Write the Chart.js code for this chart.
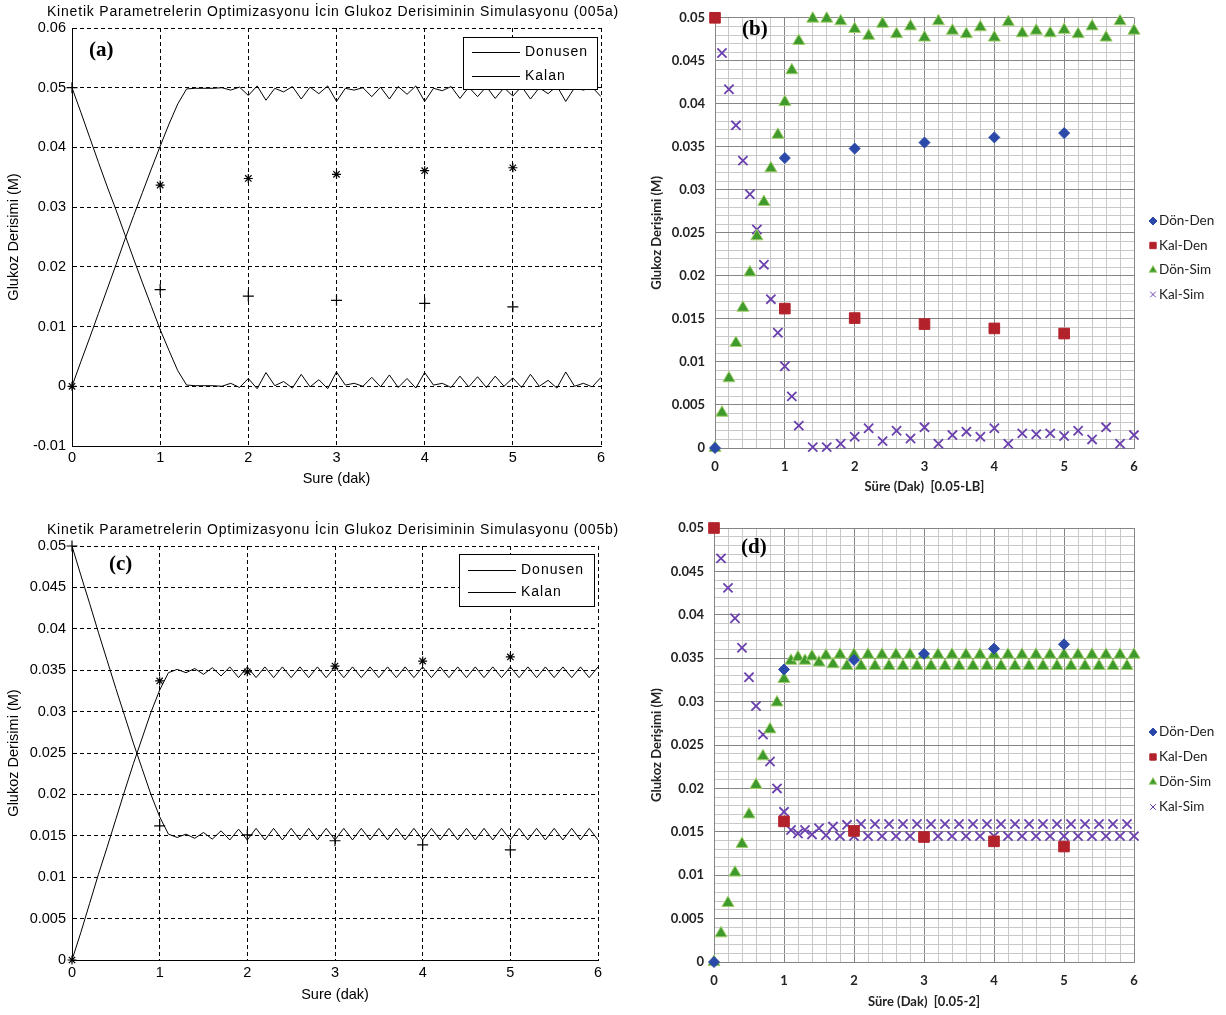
<!DOCTYPE html>
<html>
<head>
<meta charset="utf-8">
<script src="https://cdn.jsdelivr.net/npm/chart.js@4.4.1/dist/chart.umd.min.js"></script>
<style>
body{margin:0;background:#fff;}
#page{position:relative;width:1226px;height:1015px;overflow:hidden;}
.panel{position:absolute;}
</style>
</head>
<body>
<div id="page">
	<div class="panel" style="left:0;top:0;width:630px;height:500px"><canvas id="chartA"></canvas></div>
	<div class="panel" style="left:640px;top:0;width:586px;height:510px"><canvas id="chartB"></canvas></div>
	<div class="panel" style="left:0;top:510px;width:630px;height:505px"><canvas id="chartC"></canvas></div>
	<div class="panel" style="left:640px;top:510px;width:586px;height:505px"><canvas id="chartD"></canvas></div>
</div>
<script>
// time axes (dak)
const fineTimes = [0,0.1,0.2,0.3,0.4,0.5,0.6,0.7,0.8,0.9,1,1.1,1.2,1.3,1.4,1.5,1.6,1.7,1.8,1.9,
	2,2.1,2.2,2.3,2.4,2.5,2.6,2.7,2.8,2.9,3,3.1,3.2,3.3,3.4,3.5,3.6,3.7,3.8,3.9,
	4,4.1,4.2,4.3,4.4,4.5,4.6,4.7,4.8,4.9,5,5.1,5.2,5.3,5.4,5.5,5.6,5.7,5.8,5.9,6];
const coarseTimes = [0,0.1,0.2,0.3,0.4,0.5,0.6,0.7,0.8,0.9,1,1.1,1.2,
	1.4,1.6,1.8,2,2.2,2.4,2.6,2.8,3,3.2,3.4,3.6,3.8,4,4.2,4.4,4.6,4.8,5,5.2,5.4,5.6,5.8,6];
const expTimes = [0,1,2,3,4,5];

// experimental (Den)
const donDen = [0,0.0337,0.0348,0.0355,0.0361,0.0366];
const kalDen = [0.05,0.0162,0.0151,0.0144,0.0139,0.0133];

// simulation 005a (matlab, fine step)
const donusenA = [0,0.0041,0.0081,0.0122,0.0163,0.0204,0.0246,0.0286,0.0325,0.0364,
	0.0402,0.0439,0.0473,0.0498,0.0499,0.0499,0.0499,0.05,0.0496,0.0501,
	0.0487,0.0503,0.0479,0.0499,0.0493,0.0502,0.0481,0.0501,0.049,0.0503,
	0.0477,0.0499,0.0496,0.05,0.0485,0.0501,0.0481,0.0502,0.0489,0.0503,
	0.0477,0.0499,0.0495,0.0502,0.0482,0.0501,0.0485,0.0502,0.0482,0.05,
	0.0486,0.0502,0.0481,0.05,0.049,0.0503,0.0477,0.05,0.0496,0.0501,
	0.0485];
const kalanA = [0.05,0.0459,0.0417,0.0375,0.0334,0.0295,0.0254,0.0213,0.0173,0.0134,
	0.0095,0.006,0.0026,0.0002,0.0001,0.0001,0.0001,0,0.0005,-0.0002,
	0.0013,-0.0004,0.0023,0.0001,0.0008,-0.0003,0.002,-0.0001,0.0011,-0.0004,
	0.0024,0.0002,0.0005,0,0.0015,-0.0001,0.0019,-0.0002,0.0013,-0.0003,
	0.0023,0.0002,0.0005,-0.0002,0.0017,-0.0001,0.0016,-0.0002,0.0017,0,
	0.0014,-0.0002,0.002,0,0.001,-0.0003,0.0024,0,0.0005,-0.0001,
	0.0015];

// simulation 0.05-LB (excel)
const donSimB = [0,0.0041,0.0081,0.0122,0.0163,0.0204,0.0246,0.0286,0.0325,0.0364,0.0402,0.0439,0.0473,
	0.0499,0.0499,0.0496,0.0487,0.0479,0.0493,0.0481,0.049,0.0477,0.0496,0.0485,0.0481,0.0489,
	0.0477,0.0495,0.0482,0.0485,0.0482,0.0486,0.0481,0.049,0.0477,0.0496,0.0485];
const kalSimB = [0.05,0.0459,0.0417,0.0375,0.0334,0.0295,0.0254,0.0213,0.0173,0.0134,0.0095,0.006,0.0026,
	0.0001,0.0001,0.0005,0.0013,0.0023,0.0008,0.002,0.0011,0.0024,0.0005,0.0015,0.0019,0.0013,
	0.0023,0.0005,0.0017,0.0016,0.0017,0.0014,0.002,0.001,0.0024,0.0005,0.0015];

// simulation 005b / 0.05-2
const donSimD = [0,0.0033,0.0068,0.0103,0.0136,0.017,0.0204,0.0237,0.0268,0.0299,
	0.0326,0.0347,0.0351,0.0347,0.0352,0.0345,0.0353,0.0343,0.0354,0.0341,
	0.0354,0.0341,0.0354,0.0341,0.0354,0.0341,0.0354,0.0341,0.0354,0.0341,
	0.0354,0.0341,0.0354,0.0341,0.0354,0.0341,0.0354,0.0341,0.0354,0.0341,
	0.0354,0.0341,0.0354,0.0341,0.0354,0.0341,0.0354,0.0341,0.0354,0.0341,
	0.0354,0.0341,0.0354,0.0341,0.0354,0.0341,0.0354,0.0341,0.0354,0.0341,
	0.0354];
const kalSimD = [0.05,0.0465,0.0431,0.0396,0.0362,0.0328,0.0295,0.0262,0.0231,0.02,
	0.0173,0.0152,0.0148,0.0152,0.0147,0.0154,0.0146,0.0156,0.0145,0.0158,
	0.0145,0.0159,0.0145,0.0159,0.0145,0.0159,0.0145,0.0159,0.0145,0.0159,
	0.0145,0.0159,0.0145,0.0159,0.0145,0.0159,0.0145,0.0159,0.0145,0.0159,
	0.0145,0.0159,0.0145,0.0159,0.0145,0.0159,0.0145,0.0159,0.0145,0.0159,
	0.0145,0.0159,0.0145,0.0159,0.0145,0.0159,0.0145,0.0159,0.0145,0.0159,
	0.0145];

const titleA = 'Kinetik Parametrelerin Optimizasyonu İcin Glukoz Derisiminin Simulasyonu (005a)';
const titleC = 'Kinetik Parametrelerin Optimizasyonu İcin Glukoz Derisiminin Simulasyonu (005b)';
const legendNames = ['Donusen', 'Kalan'];

const MAT_FONT = '"Liberation Sans", Arial, sans-serif';
const XL_FONT = 'Lato, "Open Sans", sans-serif';

function pts(xs, ys){
	return xs.map((x, i) => ({x: x, y: ys[i]}));
}
function fmt(v){
	return String(parseFloat(v.toFixed(4)));
}
function isMult(v, step){
	return Math.abs(v / step - Math.round(v / step)) < 1e-6;
}

// titles, (a) labels and legends
const decor = {
	id: 'decor',
	afterDraw(chart, args, o){
		const ctx = chart.ctx;
		ctx.save();
		ctx.textBaseline = 'middle';
		ctx.fillStyle = '#000';
		if(o.title){
			ctx.font = '14px ' + MAT_FONT;
			ctx.letterSpacing = '0.8px';
			ctx.textAlign = 'center';
			ctx.fillText(o.title, o.titleX, o.titleY);
			ctx.letterSpacing = '0px';
		}
		if(o.box){
			const b = o.box;
			ctx.fillStyle = '#fff';
			ctx.fillRect(b.x, b.y, b.w, b.h);
			ctx.strokeStyle = '#000';
			ctx.lineWidth = 1;
			ctx.strokeRect(b.x + 0.5, b.y + 0.5, b.w, b.h);
			ctx.font = '14px ' + MAT_FONT;
			ctx.letterSpacing = '1px';
			ctx.textAlign = 'left';
			ctx.fillStyle = '#000';
			legendNames.forEach((name, i) => {
				const y = Math.round(b.y + b.rows[i]) + 0.5;
				ctx.beginPath();
				ctx.moveTo(b.x + 9, y);
				ctx.lineTo(b.x + 57, y);
				ctx.stroke();
				ctx.fillText(name, b.x + 62, y);
			});
			ctx.letterSpacing = '0px';
		}
		if(o.label){
			ctx.fillStyle = '#000';
			ctx.font = 'bold 21px "Liberation Serif", "Times New Roman", serif';
			ctx.textAlign = 'left';
			ctx.fillText(o.label, o.labelX, o.labelY);
		}
		if(o.keys){
			const k = o.keys;
			ctx.textAlign = 'left';
			chart.data.datasets.forEach((ds, i) => {
				const y = k.y + i * k.gap;
				ctx.fillStyle = ds.backgroundColor;
				ctx.strokeStyle = ds.borderColor;
				ctx.lineWidth = k.widths[i];
				Chart.helpers.drawPoint(ctx, {pointStyle: ds.pointStyle, radius: k.radius[i], borderWidth: k.widths[i], rotation: 0}, k.x, y);
				ctx.fillStyle = '#222';
				ctx.font = '13.5px ' + XL_FONT;
				ctx.fillText(ds.label, k.x + 6, y);
			});
		}
		ctx.restore();
	}
};

function matlabChart(id, cfg){
	const ctx = document.getElementById(id);
	return new Chart(ctx, {
		type: 'scatter',
		data: {
			datasets: [
			{label: 'Donusen', data: pts(fineTimes, cfg.don), showLine: true, borderColor: '#000', borderWidth: 1, pointRadius: 0},
			{label: 'Kalan', data: pts(fineTimes, cfg.kal), showLine: true, borderColor: '#000', borderWidth: 1, pointRadius: 0},
			{label: 'Donusen den', data: pts(expTimes, donDen), pointStyle: 'star', pointRadius: 4.5, borderColor: '#000', borderWidth: 1.2, backgroundColor: '#000', clip: false},
			{label: 'Kalan den', data: pts(expTimes, kalDen), pointStyle: 'cross', pointRadius: 5.5, borderColor: '#000', borderWidth: 1.2, backgroundColor: '#000', clip: false}
			]
		},
		options: {
			responsive: true,
			maintainAspectRatio: false,
			animation: false,
			events: [],
			layout: {padding: {top: cfg.top, right: cfg.right, bottom: 0, left: 0}},
			scales: {
				x: {
					type: 'linear', min: 0, max: 6,
					afterFit: s => { s.height = cfg.xh; },
					ticks: {stepSize: 1, padding: cfg.xpad, color: '#000', font: {family: MAT_FONT, size: 14.5}, maxRotation: 0},
					grid: {color: '#000', lineWidth: 1, drawTicks: false},
					border: {color: '#000', width: 1, dash: [4, 3]},
					title: {display: true, text: 'Sure (dak)', color: '#000', font: {family: MAT_FONT, size: 14.5}, padding: {top: 0, bottom: cfg.xtpad}}
				},
				y: {
					type: 'linear', min: cfg.ymin, max: cfg.ymax,
					afterFit: s => { s.width = 72; },
					ticks: {stepSize: cfg.ystep, padding: 6, color: '#000', font: {family: MAT_FONT, size: 14.5}, callback: v => fmt(v)},
					grid: {color: '#000', lineWidth: 1, drawTicks: false},
					border: {color: '#000', width: 1, dash: [4, 3]},
					title: {display: true, text: 'Glukoz Derisimi (M)', color: '#000', font: {family: MAT_FONT, size: 14.5}, padding: {top: 5, bottom: 0}}
				}
			},
			plugins: {
				legend: {display: false},
				tooltip: {enabled: false},
				decor: cfg.decor
			}
		},
		plugins: [decor]
	});
}

function excelChart(id, cfg){
	const ctx = document.getElementById(id);
	return new Chart(ctx, {
		type: 'scatter',
		data: {
			datasets: [
			{label: 'Dön-Den', data: pts(expTimes, donDen), pointStyle: 'rectRot', pointRadius: 5.5, backgroundColor: '#2a49a8', borderColor: '#2a49a8', borderWidth: 1, clip: false},
			{label: 'Kal-Den', data: pts(expTimes, kalDen), pointStyle: 'rect', pointRadius: 7.5, backgroundColor: '#b3222b', borderColor: '#b3222b', borderWidth: 1, clip: false},
			{label: 'Dön-Sim', data: pts(cfg.times, cfg.don), pointStyle: 'triangle', pointRadius: 7, backgroundColor: '#3e9a2c', borderColor: '#a6d070', borderWidth: 1, clip: false},
			{label: 'Kal-Sim', data: pts(cfg.times, cfg.kal), pointStyle: 'crossRot', pointRadius: 6.5, backgroundColor: 'rgba(0,0,0,0)', borderColor: '#6a40ae', borderWidth: 1.8, clip: false}
			]
		},
		options: {
			responsive: true,
			maintainAspectRatio: false,
			animation: false,
			events: [],
			layout: {padding: {top: cfg.top, right: 92, bottom: 0, left: 0}},
			scales: {
				x: {
					type: 'linear', min: 0, max: 6,
					afterFit: s => { s.height = cfg.xh; },
					ticks: {stepSize: 0.2, autoSkip: false, maxRotation: 0, padding: 11, color: '#222',
						font: {family: XL_FONT, size: 13, weight: 'bold'},
						callback: v => isMult(v, 1) ? fmt(v) : ''},
					grid: {drawTicks: false, color: c => isMult(c.tick.value, 1) ? '#858585' : '#c8c8c8'},
					border: {color: '#858585'},
					title: {display: true, text: cfg.xtitle, color: '#222', font: {family: XL_FONT, size: 13, weight: 'bold'}, padding: {top: 0, bottom: cfg.xtpad}}
				},
				y: {
					type: 'linear', min: 0, max: 0.05,
					afterFit: s => { s.width = cfg.yw; },
					ticks: {stepSize: 0.001, autoSkip: false, padding: 10, color: '#222',
						font: {family: XL_FONT, size: 13, weight: 'bold'},
						callback: v => isMult(v, 0.005) ? fmt(v) : ''},
					grid: {drawTicks: false, color: c => isMult(c.tick.value, 0.005) ? '#858585' : '#c8c8c8'},
					border: {color: '#858585'},
					title: {display: true, text: 'Glukoz Derişimi (M)', color: '#222', font: {family: XL_FONT, size: 13, weight: 'bold'}, padding: {top: 9, bottom: 0}}
				}
			},
			plugins: {
				legend: {display: false},
				tooltip: {enabled: false},
				decor: cfg.decor
			}
		},
		plugins: [decor]
	});
}

matlabChart('chartA', {
	don: donusenA, kal: kalanA, ymin: -0.01, ymax: 0.06, ystep: 0.01,
	top: 28, right: 29, xh: 54, xpad: 3, xtpad: 12,
	decor: {title: titleA, titleX: 333, titleY: 12, label: '(a)', labelX: 89, labelY: 51,
		box: {x: 463, y: 37, w: 134, h: 52, rows: [15, 39]}}
});

excelChart('chartB', {
	times: coarseTimes, don: donSimB, kal: kalSimB, xtitle: 'Süre (Dak)  [0.05-LB]',
	top: 17, yw: 75, xh: 62, xtpad: 15,
	decor: {label: '(b)', labelX: 102, labelY: 30,
		keys: {x: 513, y: 221, gap: 24.5, radius: [4, 4.5, 4.5, 4], widths: [1, 1, 1, 1]}}
});

matlabChart('chartC', {
	don: donSimD, kal: kalSimD, ymin: 0, ymax: 0.05, ystep: 0.005,
	top: 36, right: 32, xh: 55, xpad: 4, xtpad: 11,
	decor: {title: titleC, titleX: 333, titleY: 20, label: '(c)', labelX: 109, labelY: 55,
		box: {x: 459, y: 44, w: 135, h: 52, rows: [16, 38]}}
});

excelChart('chartD', {
	times: fineTimes, don: donSimD, kal: kalSimD, xtitle: 'Süre (Dak)  [0.05-2]',
	top: 18, yw: 74, xh: 53, xtpad: 5,
	decor: {label: '(d)', labelX: 101, labelY: 38,
		keys: {x: 513, y: 222, gap: 25, radius: [4, 4.5, 4.5, 4], widths: [1, 1, 1, 1]}}
});
</script>
</body>
</html>
